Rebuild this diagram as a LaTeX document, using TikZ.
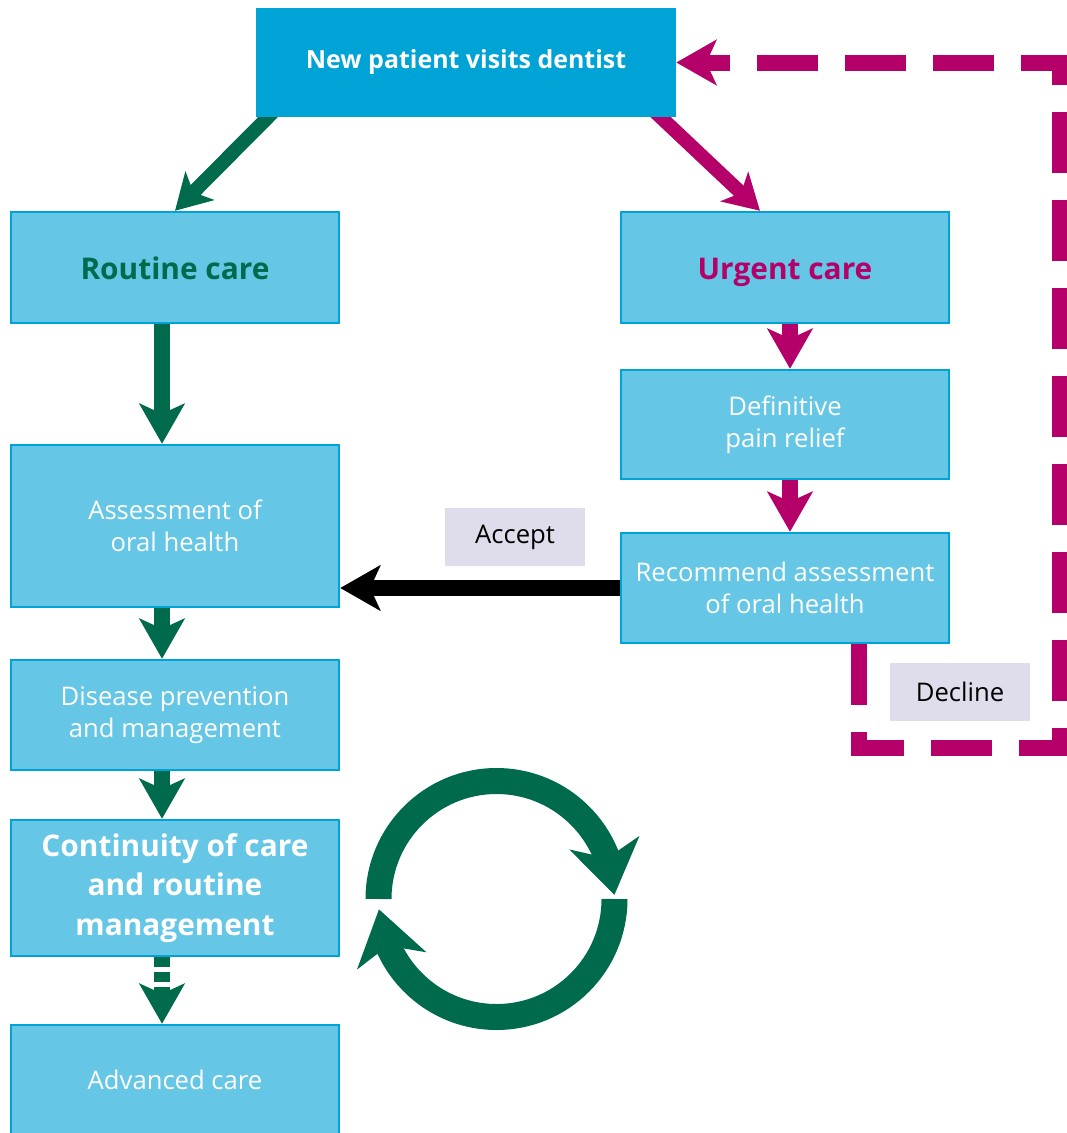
\documentclass[tikz,border=0pt]{standalone}
\usepackage{fontspec}
\setmainfont{Open Sans}
\usetikzlibrary{arrows.meta,bending,backgrounds}
\definecolor{darkcyan}{RGB}{0,163,214}
\definecolor{boxcyan}{RGB}{101,198,229}
\definecolor{nhsgreen}{RGB}{0,106,77}
\definecolor{urgentpink}{RGB}{181,0,106}
\definecolor{labelgrey}{RGB}{223,221,235}
\tikzstyle{stage}=[rectangle,draw=darkcyan,line width=0.05cm,fill=boxcyan,text=white,align=center,minimum width=6.56cm,inner sep=0pt,font=\fontsize{14.6}{18}\selectfont]
\tikzstyle{bigstage}=[stage,font=\fontsize{17}{22.5}\selectfont\bfseries]
\tikzstyle{tag}=[rectangle,fill=labelgrey,minimum width=2.8cm,minimum height=1.16cm,font=\fontsize{14.6}{18}\selectfont]
\tikzstyle{flow}=[line width=0.32cm,-{Stealth[length=0.8cm,width=0.9cm,inset=0.2cm]}]
\tikzstyle{slant}=[line width=0.28cm,-{Stealth[length=0.7cm,width=0.8cm,inset=0.18cm]}]
\tikzstyle{turn}=[nhsgreen,line width=0.52cm,-{Stealth[length=1.05cm,width=1.4cm,inset=0.3cm]}]

\begin{document}
\begin{tikzpicture}[x=0.02cm,y=0.02cm]
\useasboundingbox (0,0) rectangle (1067,-1133);
\node (newpat) at (466,-62.5)[rectangle,fill=darkcyan,text=white,minimum width=8.4cm,minimum height=2.18cm,font=\fontsize{14.2}{18}\selectfont\bfseries]{New patient visits dentist};
\node (routine) at (175,-267.5)[bigstage,text=nhsgreen,minimum height=2.22cm,text height=1.36em,text depth=0pt]{Routine care};
\node (urgent) at (785,-267.5)[bigstage,text=urgentpink,minimum height=2.22cm,text height=1.36em,text depth=0pt]{Urgent care};
\node (pain) at (785,-424.5)[stage,minimum height=2.18cm]{Definitive\\pain relief};
\node (recommend) at (785,-588)[stage,minimum height=2.2cm]{Recommend assessment\\of oral health};
\node (assess) at (175,-526)[stage,minimum height=3.24cm]{Assessment of\\oral health};
\node (disease) at (175,-715)[stage,minimum height=2.2cm]{Disease prevention\\and management};
\node (contin) at (175,-888)[bigstage,minimum height=2.72cm]{Continuity of care\\and routine\\management};
\node (advanced) at (175,-1080)[stage,minimum height=2.2cm]{Advanced care};
\node (accept) at (515,-537)[tag]{Accept};
\node (decline) at (960,-692)[tag]{Decline};
\coordinate (loop) at (1060,-748);

\begin{scope}[on background layer]
\draw[slant,nhsgreen] ([shift={(0.44cm,0.2cm)}]newpat.south west)--(routine.north);
\draw[slant,urgentpink] ([shift={(-0.52cm,0.2cm)}]newpat.south east)--([xshift=-0.5cm]urgent.north);
\end{scope}

\draw[flow,nhsgreen] ([xshift=-0.26cm]routine.south)--([xshift=-0.26cm]assess.north);
\draw[flow,nhsgreen] ([xshift=-0.26cm]assess.south)--([xshift=-0.26cm]disease.north);
\draw[flow,nhsgreen] ([xshift=-0.26cm]disease.south)--([xshift=-0.26cm]contin.north);
\draw[flow,nhsgreen,dash pattern=on 0.2cm off 0.1cm] ([xshift=-0.26cm]contin.south)--([xshift=-0.26cm]advanced.north);
\draw[flow,urgentpink] ([xshift=0.1cm]urgent.south)--([xshift=0.1cm]pain.north);
\draw[flow,urgentpink] ([xshift=0.1cm]pain.south)--([xshift=0.1cm]recommend.north);
\draw[flow,black] (recommend.west)--(recommend.west -| assess.east);
\draw[flow,urgentpink,dash pattern=on 1.22cm off 0.54cm,line join=miter]
    ([xshift=-1.82cm]recommend.south east) |- (loop) |- (newpat.east);

% the two arrows going round
\draw[turn] (378.5,-899) arc[start angle=180,end angle=2,radius=118];
\draw[turn] (614.5,-899) arc[start angle=0,end angle=-175,radius=118];
\end{tikzpicture}
\end{document}
